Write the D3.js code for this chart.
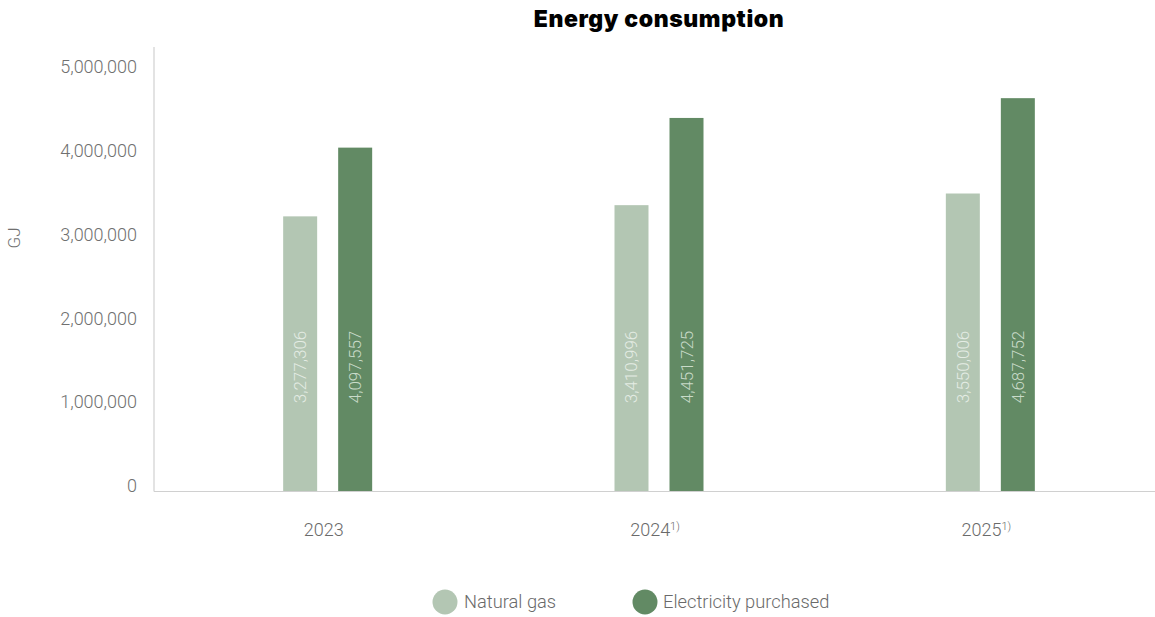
<!DOCTYPE html>
<html>
<head>
<meta charset="utf-8">
<script src="https://cdn.jsdelivr.net/npm/d3@7"></script>
<style>
  html, body { margin: 0; padding: 0; background: #fff; }
  svg { display: block; }
  text { font-family: Roboto, "Noto Sans", sans-serif; }
</style>
</head>
<body>
<svg id="chart" width="1155" height="617"></svg>
<script>
// Energy consumption in GJ per year
const years = ["2023", "2024", "2025"];
const yearNotes = ["", "1)", "1)"];
const seriesNames = ["Natural gas", "Electricity purchased"];
const naturalGas = [3277306, 3410996, 3550006];
const electricity = [4097557, 4451725, 4687752];
const yTicks = [0, 1000000, 2000000, 3000000, 4000000, 5000000];
const seriesColors = ["#b3c6b3", "#628a64"];
const labelColors = ["#e4ece4", "#c9dbc9"];

const svg = d3.select("#chart");

const x = d3.scaleBand().domain(years).range([162, 1156]);
const xSeries = d3.scaleBand().domain(seriesNames).range([0, 89]).paddingInner(0.382);
const y = d3.scaleLinear().domain([0, 5000000]).range([491, 72]);

// Title
svg.append("text")
  .attr("x", 659).attr("y", 27)
  .attr("text-anchor", "middle")
  .style("font-family", "Inter, Lato, 'Open Sans', sans-serif")
  .style("font-weight", 900)
  .style("font-size", "23px")
  .style("letter-spacing", "0.6px")
  .attr("fill", "#000")
  .text("Energy consumption");

// Axis lines
svg.append("line")
  .attr("x1", 154).attr("x2", 154).attr("y1", 47).attr("y2", 491.5)
  .attr("stroke", "#d0d0d0").attr("stroke-width", 1.2);
svg.append("line")
  .attr("x1", 154).attr("x2", 1155).attr("y1", 491.5).attr("y2", 491.5)
  .attr("stroke", "#d0d0d0").attr("stroke-width", 1.2);

// Y tick labels
const yAxis = d3.axisLeft(y).tickValues(yTicks).tickSize(0).tickPadding(0)
  .tickFormat(d3.format(","));
const gy = svg.append("g").attr("transform", "translate(137,-5)").call(yAxis);
gy.select(".domain").remove();
gy.selectAll("text")
  .style("font-size", "18px").style("font-weight", 300)
  .style("font-family", "Roboto, sans-serif")
  .attr("fill", "#707070");

// Y axis title
svg.append("text")
  .attr("transform", "translate(20,238) rotate(-90)")
  .attr("text-anchor", "middle")
  .style("font-size", "17px").style("font-weight", 300)
  .attr("fill", "#707070")
  .text("GJ");

// X labels
const xl = svg.append("g").selectAll("text").data(years).join("text")
  .attr("x", d => x(d) + x.bandwidth() / 2 - 4)
  .attr("y", 536)
  .attr("text-anchor", "middle")
  .style("font-size", "18px").style("font-weight", 300)
  .attr("fill", "#6a6a6a");
xl.append("tspan").text(d => d);
xl.append("tspan")
  .attr("dy", -6)
  .style("font-size", "11px")
  .text((d, i) => yearNotes[i]);

// Bars
const rows = years.map((yr, i) => ({ year: yr, values: [naturalGas[i], electricity[i]] }));
const groups = svg.append("g").selectAll("g").data(rows).join("g")
  .attr("transform", d => `translate(${x(d.year) + x.bandwidth() / 2 - 44.5},0)`);

groups.selectAll("rect")
  .data(d => d.values.map((v, k) => ({ key: seriesNames[k], value: v, k })))
  .join("rect")
  .attr("x", d => xSeries(d.key))
  .attr("width", xSeries.bandwidth())
  .attr("y", d => y(d.value))
  .attr("height", d => y(0) - y(d.value))
  .attr("fill", d => seriesColors[d.k]);

// Value labels inside bars
groups.selectAll("text.val")
  .data(d => d.values.map((v, k) => ({ key: seriesNames[k], value: v, k })))
  .join("text")
  .attr("class", "val")
  .attr("transform", d => `translate(${xSeries(d.key) + xSeries.bandwidth() / 2 + 6},367) rotate(-90)`)
  .attr("text-anchor", "middle")
  .style("font-size", "17px").style("font-weight", 300)
  .attr("fill", d => labelColors[d.k])
  .text(d => d3.format(",")(d.value));

// Legend
const legendItems = [
  { name: seriesNames[0], cx: 445, tx: 464 },
  { name: seriesNames[1], cx: 645, tx: 663 }
];
const lg = svg.append("g").selectAll("g").data(legendItems).join("g");
lg.append("circle")
  .attr("cx", d => d.cx).attr("cy", 602).attr("r", 12.5)
  .attr("fill", (d, i) => seriesColors[i]);
lg.append("text")
  .attr("x", d => d.tx).attr("y", 608)
  .style("font-size", "18.3px").style("font-weight", 300)
  .attr("fill", "#6a6a6a")
  .text(d => d.name);
</script>
</body>
</html>
